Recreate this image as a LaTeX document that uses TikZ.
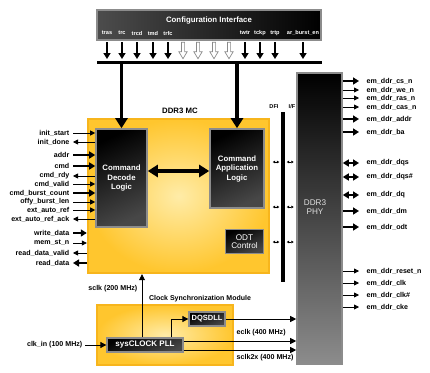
\documentclass[tikz,border=0pt]{standalone}
\usepackage{fontspec}
\setmainfont{Liberation Sans}
\usetikzlibrary{arrows.meta,calc}
\definecolor{yborder}{HTML}{F7B51C}
\definecolor{yin}{HTML}{FFECA8}
\definecolor{yout}{HTML}{FFC62E}
\definecolor{dkborder}{HTML}{8C8C8C}
\definecolor{hollow}{HTML}{8A8A8A}
\tikzset{
  sig/.style={font=\bfseries\fontsize{7.1}{7.5}\selectfont, inner sep=0.5pt},
  lsig/.style={sig, anchor=east},
  rsig/.style={sig, anchor=west},
  tk/.style={line width=2.2pt, -{Triangle[length=6pt,width=7pt]}},
  tn/.style={line width=0.8pt, -{Triangle[length=5pt,width=5pt]}},
  tkbi/.style={line width=2.2pt, {Triangle[length=6pt,width=7pt]}-{Triangle[length=6pt,width=7pt]}},
  tinybi/.style={line width=0.6pt, {Triangle[length=2.4pt,width=2.6pt]}-{Triangle[length=2.4pt,width=2.6pt]}},
  bigarr/.style={line width=3.2pt, -{Triangle[length=10pt,width=12pt]}},
  bigbi/.style={line width=3.2pt, {Triangle[length=10pt,width=12pt]}-{Triangle[length=10pt,width=12pt]}},
  cfgarr/.style={line width=1.6pt, -{Triangle[length=6pt,width=7pt]}},
  clkarr/.style={line width=0.8pt, -{Triangle[length=6pt,width=6pt]}},
  darkbox/.style={draw=dkborder, line width=1.6pt, top color=black, bottom color=black!72, shading angle=25, text=white, align=center, inner sep=0pt},
  yelbox/.style={draw=yborder, line width=2.4pt, inner color=yin, outer color=yout, inner sep=0pt},
  boxtitle/.style={font=\bfseries\fontsize{7.8}{9}\selectfont, align=center},
  cfglab/.style={font=\bfseries\fontsize{5.6}{6}\selectfont, text=white, inner sep=0pt},
}
\begin{document}
\begin{tikzpicture}[x=1pt,y=-1pt]
\useasboundingbox[fill=white] (0,0) rectangle (430,372);

% ---------------- configuration interface
\node[draw=dkborder, line width=1.4pt, left color=black!70, right color=black, minimum width=224pt, minimum height=30pt, inner sep=0pt] (cfg) at (209,25) {};
\node[boxtitle, text=white] (cfgt) at (209,20) {Configuration Interface};
\foreach \n/\x/\t in {t1/107/tras,t2/122/trc,t3/137/trcd,t4/153/tmd,t5/168/trfc,t10/245/twtr,t11/260/tckp,t12/275/trtp,t13/303/ar\_burst\_en}
  \node[cfglab] (\n) at (\x,33) {\t};
\foreach \n/\x in {t6/183,t7/198,t8/214,t9/229}
  \coordinate (\n) at (\x,33);
\coordinate (busL) at (97,62);
\coordinate (busR) at (322,62);
\draw[line width=3pt] (busL) -- (busR);
\foreach \n in {t1,t2,t3,t4,t5,t10,t11,t12,t13}
  \draw[cfgarr] (\n |- cfg.south) ++(0,1.5) -- ($(\n |- busL)+(0,-3)$);
\foreach \n in {t6,t7,t8,t9}
  \draw[hollow, fill=white, line width=0.7pt] (\n |- cfg.south) ++(-1.6,1.5) -- ++(3.2,0) -- ++(0,9.5) -- ++(2.6,0) -- ++(-4.2,7) -- ++(-4.2,-7) -- ++(2.6,0) -- cycle;

% ---------------- DDR3 MC
\node[yelbox, minimum width=181pt, minimum height=154pt] (mc) at (178.5,196) {};
\node[boxtitle] (mct) at (180,111) {DDR3 MC};
\node[darkbox, minimum width=51pt, minimum height=98pt, font=\bfseries\fontsize{7.8}{9.5}\selectfont] (dec) at (121.5,178) {Command\\Decode\\Logic};
\node[darkbox, minimum width=54pt, minimum height=79pt, font=\bfseries\fontsize{7.8}{9.5}\selectfont] (app) at (237,168.5) {Command\\Application\\Logic};
\node[darkbox, minimum width=38pt, minimum height=24pt, line width=1.3pt, font=\fontsize{8.2}{8.5}\selectfont] (odt) at (244.5,241.5) {ODT\\Control};

\draw[bigarr] (busL -| dec) -- (dec.north);
\draw[bigarr] (busL -| app) -- (app.north);
\draw[bigbi] (dec.east |- 0,171) -- (app.west |- 0,171);

% ---------------- DFI bar
\node[fill=black, minimum width=4pt, minimum height=170pt, inner sep=0pt] (dfi) at (283,197) {};
\node[font=\bfseries\fontsize{5.6}{6}\selectfont, inner sep=0pt] (dfil) at (274,107) {DFI};
\node[font=\bfseries\fontsize{5.6}{6}\selectfont, inner sep=0pt] (ifl) at (292,107) {I/F};

% ---------------- DDR3 PHY
\node[draw=dkborder, line width=1.6pt, top color=black, bottom color=black!45, minimum width=45pt, minimum height=291pt, inner sep=0pt] (phy) at (319.5,218.5) {};
\node[text=black!12, align=center, font=\fontsize{8.2}{9.5}\selectfont] (phyt) at (315,207) {DDR3\\PHY};

\foreach \y in {162,207,242} {
  \draw[tinybi] ($(mc.east |- 0,\y)+(2.5,0)$) -- ($(dfi.west |- 0,\y)+(-1.5,0)$);
  \draw[tinybi] ($(dfi.east |- 0,\y)+(1.5,0)$) -- ($(phy.west |- 0,\y)+(-2.5,0)$);
}

% ---------------- left signals
\foreach \n/\y/\t/\s/\d in {
  l1/133/init\_start/tn/i, l2/142/init\_done/tn/o, l3/155/addr/tk/i, l4/166/cmd/tk/i,
  l5/176/cmd\_rdy/tn/o, l6/184/cmd\_valid/tn/i, l7/193/cmd\_burst\_count/tk/i,
  l8/202/offy\_burst\_len/tn/i, l9/210/ext\_auto\_ref/tn/i, l10/219/ext\_auto\_ref\_ack/tn/o} {
  \node[lsig] (\n) at (70,\y) {\t};
  \if\d i
    \draw[\s] ($(\n.east)+(3,0)$) -- (\n.east -| dec.west);
  \else
    \draw[\s] (\n.east -| dec.west) -- ($(\n.east)+(3,0)$);
  \fi
}
\foreach \n/\y/\t/\s/\d in {
  l11/233/write\_data/tk/i, l12/243/mem\_st\_n/tn/i, l13/253/read\_data\_valid/tn/o, l14/263/read\_data/tk/o} {
  \node[lsig] (\n) at (70,\y) {\t};
  \if\d i
    \draw[\s] ($(\n.east)+(3,0)$) -- (\n.east -| mc.west);
  \else
    \draw[\s] (\n.east -| mc.west) -- ($(\n.east)+(3,0)$);
  \fi
}

% ---------------- right signals
\foreach \n/\y/\t/\s in {
  r1/81/em\_ddr\_cs\_n/tk, r2/90/em\_ddr\_we\_n/tn, r3/98/em\_ddr\_ras\_n/tn, r4/107/em\_ddr\_cas\_n/tn,
  r5/119/em\_ddr\_addr/tk, r6/132/em\_ddr\_ba/tk, r7/163/em\_ddr\_dqs/tkbi, r8/177/em\_ddr\_dqs\#/tkbi,
  r9/195/em\_ddr\_dq/tkbi, r10/211/em\_ddr\_dm/tk, r11/227/em\_ddr\_odt/tk,
  r12/271/em\_ddr\_reset\_n/tn, r13/283/em\_ddr\_clk/tn, r14/295/em\_ddr\_clk\#/tn, r15/307/em\_ddr\_cke/tn} {
  \node[rsig] (\n) at (366,\y) {\t};
  \draw[\s] (\n.west -| phy.east) -- ($(\n.west)+(-7,0)$);
}

% ---------------- clock synchronization module
\node[yelbox, line width=2pt, minimum width=136pt, minimum height=60pt] (csm) at (165,335) {};
\node[font=\bfseries\fontsize{7}{7}\selectfont, inner sep=0pt] (csmt) at (200,299) {Clock Synchronization Module};
\node[darkbox, minimum width=76pt, minimum height=14pt, line width=1.3pt, font=\bfseries\fontsize{8}{8}\selectfont] (pll) at (145,345) {sysCLOCK PLL};
\node[darkbox, minimum width=36pt, minimum height=14pt, line width=1.3pt, font=\bfseries\fontsize{7.5}{8}\selectfont] (dll) at (207,319) {DQSDLL};

\node[sig, anchor=east] (clkin) at (83,345) {clk\_in (100 MHz)};
\draw[clkarr] (clkin.east) ++(2,0) -- (pll.west);

\node[sig, anchor=east] (sclkl) at (138,289) {sclk (200 MHz)};
\draw[clkarr] (pll.north -| 142,0) -- (mc.south -| 142,0);

\draw[clkarr] (pll.north -| 171,0) |- (dll.west);
\draw[clkarr] (dll.east) -- (dll.east -| phy.west);
\node[sig, anchor=west] (eclkl) at (236,333) {eclk (400 MHz)};
\draw[clkarr] (pll.east |- 0,341) -- (phy.west |- 0,341);
\draw[clkarr] (pll.east |- 0,350) -- (phy.west |- 0,350);
\node[sig, anchor=west] (sclk2l) at (236,358) {sclk2x (400 MHz)};
\end{tikzpicture}
\end{document}
